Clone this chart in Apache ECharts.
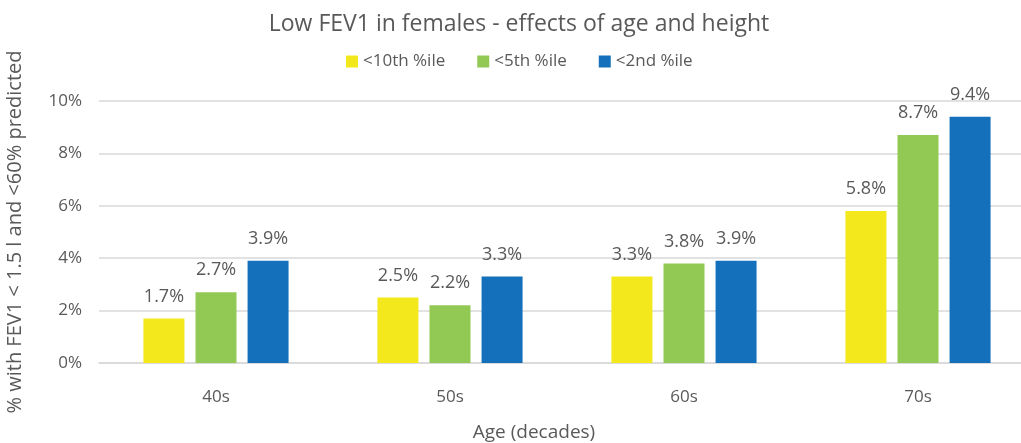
<!DOCTYPE html>
<html>
<head>
<meta charset="utf-8">
<script src="https://cdn.jsdelivr.net/npm/echarts@6/dist/echarts.min.js"></script>
<style>
  html, body { margin: 0; padding: 0; background: #fff; }
  #chart { width: 1021px; height: 443px; }
</style>
</head>
<body>
<div id="chart"></div>
<script>
const categories = ['40s', '50s', '60s', '70s'];
const seriesNames = ['<10th %ile', '<5th %ile', '<2nd %ile'];
const below10th = [1.7, 2.5, 3.3, 5.8];
const below5th = [2.7, 2.2, 3.8, 8.7];
const below2nd = [3.9, 3.3, 3.9, 9.4];
const colors = ['#F2E81C', '#92C955', '#1470BA'];

const grey = '#595959';
const font = '"Open Sans", "Noto Sans", sans-serif';

const series = [below10th, below5th, below2nd].map((values, i) => ({
    name: seriesNames[i],
    type: 'bar',
    data: values,
    barWidth: 41,
    barGap: '27%',
    itemStyle: { color: colors[i] },
    label: {
        show: true,
        position: 'top',
        distance: 13,
        color: grey,
        fontFamily: font,
        fontSize: 18,
        formatter: p => p.value.toFixed(1) + '%'
    }
}));

const chart = echarts.init(document.getElementById('chart'));
chart.setOption({
    animation: false,
    title: {
        text: 'Low FEV1 in females - effects of age and height',
        left: 514,
        textAlign: 'center',
        top: 8,
        textStyle: { color: grey, fontFamily: font, fontSize: 23, fontWeight: 'normal' }
    },
    legend: {
        top: 48,
        left: 341,
        itemWidth: 12,
        itemHeight: 12,
        itemGap: 32,
        icon: 'rect',
        textStyle: { color: grey, fontFamily: font, fontSize: 17 },
        data: seriesNames
    },
    grid: { left: 99, width: 936, top: 101, bottom: 80, containLabel: false, outerBoundsMode: 'none' },
    xAxis: {
        type: 'category',
        data: categories,
        name: 'Age (decades)',
        nameLocation: 'middle',
        nameGap: 60,
        nameTextStyle: { color: grey, fontFamily: font, fontSize: 19, padding: [0, 66, 0, 0] },
        axisLine: { lineStyle: { color: '#d9d9d9', width: 1.5 } },
        axisTick: { show: false },
        axisLabel: { color: grey, fontFamily: font, fontSize: 17, margin: 26 }
    },
    yAxis: {
        type: 'value',
        min: 0,
        max: 10,
        interval: 2,
        name: '% with FEV1 < 1.5 l and <60% predicted',
        nameLocation: 'middle',
        nameGap: 74,
        nameTextStyle: { color: grey, fontFamily: font, fontSize: 20 },
        axisLine: { show: false },
        axisTick: { show: false },
        splitLine: { lineStyle: { color: '#d9d9d9', width: 1.5 } },
        axisLabel: { color: grey, fontFamily: font, fontSize: 17, margin: 17, formatter: '{value}%' }
    },
    series
});
</script>
</body>
</html>
